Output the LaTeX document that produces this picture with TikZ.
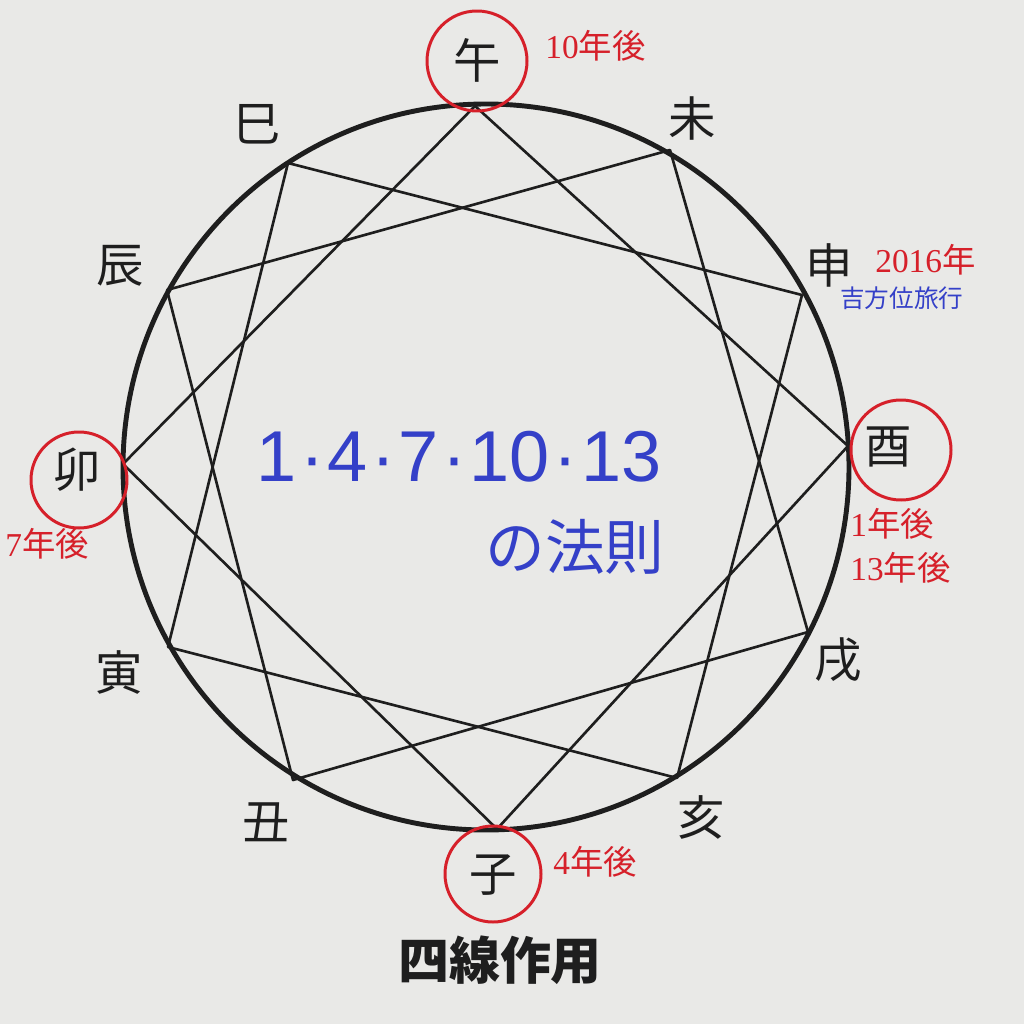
\documentclass[tikz,border=0pt]{standalone}
\usepackage{fontspec}
\newfontfamily\cjk{Noto Sans CJK JP}
\newfontfamily\numfont{Liberation Serif}
\newfontfamily\lawfont{Liberation Sans}
\usepackage{xcolor}
\definecolor{paper}{RGB}{233,233,231}
\definecolor{ink}{RGB}{30,30,30}
\definecolor{markred}{RGB}{214,32,42}
\definecolor{lawblue}{RGB}{52,64,200}
\newcommand{\lawdot}{\kern2pt·\kern2pt}

\tikzset{
  branch/.style={inner sep=0pt, text=ink, font=\cjk\fontsize{27}{27}\selectfont},
  ring/.style={draw=markred, line width=1.7pt},
  note/.style={inner sep=0pt, anchor=west, text=markred, font=\cjk\fontsize{19}{19}\selectfont},
  link/.style={draw=ink, line width=1.5pt, line join=round},
}

\begin{document}
\begin{tikzpicture}[x=0.02cm, y=-0.02cm]
            \fill[paper] (0,0) rectangle (1024,1024);
            \useasboundingbox (0,0) rectangle (1024,1024);

            \coordinate (c) at (486,467);
            \coordinate (uma) at (475,106);
            \coordinate (hitsuji) at (670,150);
            \coordinate (saru) at (802,295);
            \coordinate (tori) at (848,446);
            \coordinate (inu) at (808,632);
            \coordinate (i) at (677,778);
            \coordinate (ne) at (497,829);
            \coordinate (ushi) at (293,780);
            \coordinate (tora) at (168,647);
            \coordinate (u) at (123,464);
            \coordinate (tatsu) at (167,290);
            \coordinate (mi) at (288,163);

            \draw[ink, line width=2.8pt] (c) circle[radius=363];

            \draw[link] (uma) -- (tori) -- (ne) -- (u) -- cycle;
            \draw[link] (hitsuji) -- (inu) -- (ushi) -- (tatsu) -- cycle;
            \draw[link] (saru) -- (i) -- (tora) -- (mi) -- cycle;

            \node[branch] (Luma) at (477,60) {午};
            \node[branch] (Lhitsuji) at (692,118) {未};
            \node[branch] (Lsaru) at (829,265) {申};
            \node[branch] (Ltori) at (888,447) {酉};
            \node[branch] (Linu) at (838,660) {戌};
            \node[branch] (Li) at (701,817) {亥};
            \node[branch] (Lne) at (493,875) {子};
            \node[branch] (Lushi) at (266,822) {丑};
            \node[branch] (Ltora) at (119,673) {寅};
            \node[branch] (Lu) at (77,470) {卯};
            \node[branch] (Ltatsu) at (120,266) {辰};
            \node[branch] (Lmi) at (257,124) {巳};

            \draw[ring] (477,61) circle[radius=50];
            \draw[ring] (901,450) circle[radius=50];
            \draw[ring] (493,874) circle[radius=48];
            \draw[ring] (79,480) circle[radius=48];

            \node[note] (n10) at (545,46) {{\numfont 10}年後};
            \node[note] (n2016) at (875,260) {{\numfont 2016}年};
            \node[note, text=lawblue, font=\cjk\fontsize{14}{14}\selectfont] (trip) at (840,298) {吉方位旅行};
            \node[note] (n1) at (850,524) {{\numfont 1}年後};
            \node[note] (n13) at (850,568) {{\numfont 13}年後};
            \node[note] (n7) at (5,544) {{\numfont 7}年後};
            \node[note] (n4) at (553,862) {{\numfont 4}年後};

            \node[inner sep=0pt, text=lawblue, font=\lawfont\fontsize{41}{41}\selectfont] (law) at (459,457) {1\lawdot 4\lawdot 7\lawdot 10\lawdot 13};
            \node[inner sep=0pt, anchor=east, text=lawblue, font=\cjk\fontsize{34}{34}\selectfont] (rule) at (665,547) {の法則};

            \node[inner sep=0pt, text=ink, font=\cjk\bfseries\fontsize{29}{29}\selectfont] (title) at (500,960) {四線作用};
        \end{tikzpicture}
\end{document}
